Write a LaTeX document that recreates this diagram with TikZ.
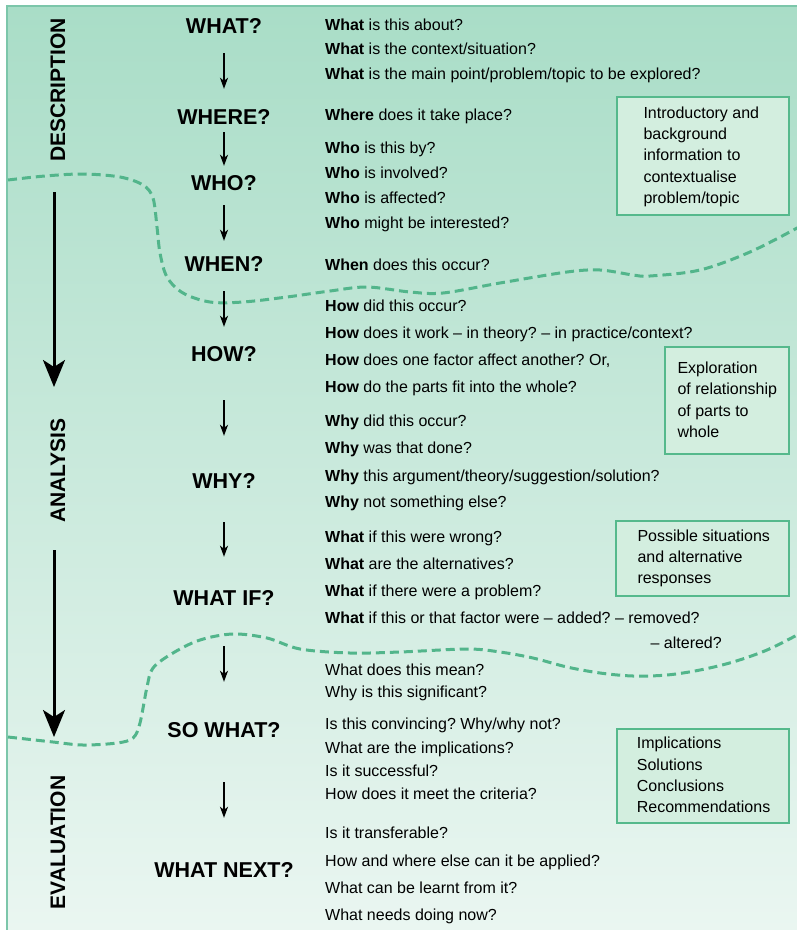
\documentclass[tikz,border=0pt]{standalone}
\usepackage{fontspec}
\setmainfont{Liberation Sans}
\usetikzlibrary{arrows.meta}

\definecolor{bgtop}{HTML}{A9DDC7}
\definecolor{bgmid}{HTML}{D5EEE3}
\definecolor{bgbot}{HTML}{EAF6F1}
\definecolor{framecol}{HTML}{7CC6AA}
\definecolor{divider}{HTML}{52B58B}
\definecolor{boxfill}{HTML}{D3EEDF}
\definecolor{boxline}{HTML}{55B98C}

\begin{document}
\frenchspacing
\begin{tikzpicture}[x=1pt,y=-1pt,
  stage/.style={font=\fontsize{21.5}{25}\selectfont\bfseries, inner sep=0pt, anchor=base},
  phase/.style={font=\fontsize{21}{25}\selectfont\bfseries, inner sep=0pt, anchor=base, rotate=90},
  question/.style={font=\fontsize{16}{19}\selectfont, inner sep=0pt, anchor=base west},
  infobox/.style={draw=boxline, fill=boxfill, line width=2.5pt, inner sep=0pt},
  % multi-line text: the base anchor sits on the last line
  boxtext/.style={font=\fontsize{16}{21.2}\selectfont, inner sep=0pt, anchor=base west, align=left},
  divide/.style={draw=divider, line width=3pt, dash pattern=on 9pt off 5pt},
  smallarrow/.style={-{Stealth[length=11pt,width=8pt,inset=3pt]}, line width=1.3pt},
  bigarrow/.style={-{Stealth[length=27pt,width=22pt,inset=7pt]}, line width=3pt},
]
\useasboundingbox (0,0) rectangle (797,930);

% background panel and frame
\shade[top color=bgtop, middle color=bgmid, bottom color=bgbot] (7,6) rectangle (797,930);
\draw[framecol, line width=2pt] (7,930) -- (7,6) -- (797,6);

% phase boundaries
\draw[divide] plot[smooth, tension=0.55] coordinates {
  (8,180) (45,176) (83,174) (120,177) (143,185) (153,198) (157,227) (160,253)
  (167,277) (183,293) (210,302) (243,302) (287,297) (330,291) (367,287)
  (410,292) (443,293) (500,283) (567,272) (600,270) (633,275) (650,276)
  (700,270) (750,252) (799,227)};
\draw[divide] plot[smooth, tension=0.55] coordinates {
  (8,737) (53,742) (83,745) (117,743) (133,738) (140,723) (147,687) (153,668)
  (173,653) (200,640) (233,634) (267,638) (300,649) (350,653) (400,652)
  (467,649) (500,652) (533,658) (567,667) (600,673) (633,676) (667,675)
  (700,670) (733,662) (767,650) (799,634)};

% phase labels
\node[phase] (desc) at (65,90) {DESCRIPTION};
\node[phase] (anal) at (65,470.5) {ANALYSIS};
\node[phase] (eval) at (65,842.5) {EVALUATION};

\coordinate (flowA1) at (54,192);
\coordinate (flowA2) at (54,387);
\coordinate (flowB1) at (54,550);
\coordinate (flowB2) at (54,737);
\draw[bigarrow] (flowA1) -- (flowA2);
\draw[bigarrow] (flowB1) -- (flowB2);

% question stages
\node[stage] (what)     at (224,33)    {WHAT?};
\node[stage] (where)    at (224,124)   {WHERE?};
\node[stage] (who)      at (224,190)   {WHO?};
\node[stage] (when)     at (224,271.7) {WHEN?};
\node[stage] (how)      at (224,361.7) {HOW?};
\node[stage] (why)      at (224,488)   {WHY?};
\node[stage] (whatif)   at (224,605)   {WHAT IF?};
\node[stage] (sowhat)   at (224,737)   {SO WHAT?};
\node[stage] (whatnext) at (224,877)   {WHAT NEXT?};

\draw[smallarrow, shorten <=20pt,   shorten >=20pt]   (what.south)   -- (where.north);
\draw[smallarrow, shorten <=8pt,    shorten >=9pt]    (where.south)  -- (who.north);
\draw[smallarrow, shorten <=15pt,   shorten >=15.7pt] (who.south)    -- (when.north);
\draw[smallarrow, shorten <=19.3pt, shorten >=19.7pt] (when.south)   -- (how.north);
\draw[smallarrow, shorten <=38.3pt, shorten >=37pt]   (how.south)    -- (why.north);
\draw[smallarrow, shorten <=34pt,   shorten >=33pt]   (why.south)    -- (whatif.north);
\draw[smallarrow, shorten <=41pt,   shorten >=40pt]   (whatif.south) -- (sowhat.north);
\draw[smallarrow, shorten <=45pt,   shorten >=44pt]   (sowhat.south) -- (whatnext.north);

% questions
\node[question] (q1)  at (325,30)    {\textbf{What} is this about?};
\node[question] (q2)  at (325,54.3)  {\textbf{What} is the context/situation?};
\node[question] (q3)  at (325,79)    {\textbf{What} is the main point/problem/topic to be explored?};
\node[question] (q4)  at (325,120.7) {\textbf{Where} does it take place?};
\node[question] (q5)  at (325,153.3) {\textbf{Who} is this by?};
\node[question] (q6)  at (325,178.3) {\textbf{Who} is involved?};
\node[question] (q7)  at (325,203.3) {\textbf{Who} is affected?};
\node[question] (q8)  at (325,228.7) {\textbf{Who} might be interested?};
\node[question] (q9)  at (325,270.7) {\textbf{When} does this occur?};
\node[question] (q10) at (325,311.7) {\textbf{How} did this occur?};
\node[question] (q11) at (325,338.5) {\textbf{How} does it work – in theory? – in practice/context?};
\node[question] (q12) at (325,365.5) {\textbf{How} does one factor affect another? Or,};
\node[question] (q13) at (325,392.5) {\textbf{How} do the parts fit into the whole?};
\node[question] (q14) at (325,426.5) {\textbf{Why} did this occur?};
\node[question] (q15) at (325,453.5) {\textbf{Why} was that done?};
\node[question] (q16) at (325,481.5) {\textbf{Why} this argument/theory/suggestion/solution?};
\node[question] (q17) at (325,507.5) {\textbf{Why} not something else?};
\node[question] (q18) at (325,542.5) {\textbf{What} if this were wrong?};
\node[question] (q19) at (325,569.5) {\textbf{What} are the alternatives?};
\node[question] (q20) at (325,596.5) {\textbf{What} if there were a problem?};
\node[question] (q21) at (325,623.3) {\textbf{What} if this or that factor were – added? – removed?};
\node[question, anchor=base east] (q22) at (722,648.3) {– altered?};
\node[question] (q23) at (325,675)   {What does this mean?};
\node[question] (q24) at (325,697.5) {Why is this significant?};
\node[question] (q25) at (325,729.5) {Is this convincing? Why/why not?};
\node[question] (q26) at (325,753.5) {What are the implications?};
\node[question] (q27) at (325,776.5) {Is it successful?};
\node[question] (q28) at (325,799.5) {How does it meet the criteria?};
\node[question] (q29) at (325,838.5) {Is it transferable?};
\node[question] (q30) at (325,866.5) {How and where else can it be applied?};
\node[question] (q31) at (325,893.5) {What can be learnt from it?};
\node[question] (q32) at (325,920.5) {What needs doing now?};

% summary boxes
\node[infobox, minimum width=172pt, minimum height=118pt] (box1) at (703,156) {};
\node[boxtext] (box1t) at (643.3,203.3)
  {Introductory and\\background\\information to\\contextualise\\problem/topic};
\node[infobox, minimum width=124pt, minimum height=107pt] (box2) at (727,400.5) {};
\node[boxtext] (box2t) at (677.3,437.3)
  {Exploration\\of relationship\\of parts to\\whole};
\node[infobox, minimum width=173pt, minimum height=75pt] (box3) at (702.5,558.5) {};
\node[boxtext] (box3t) at (637.3,583.8)
  {Possible situations\\and alternative\\responses};
\node[infobox, minimum width=172pt, minimum height=94pt] (box4) at (703,776) {};
\node[boxtext] (box4t) at (636.7,812.4)
  {Implications\\Solutions\\Conclusions\\Recommendations};

\end{tikzpicture}
\end{document}
